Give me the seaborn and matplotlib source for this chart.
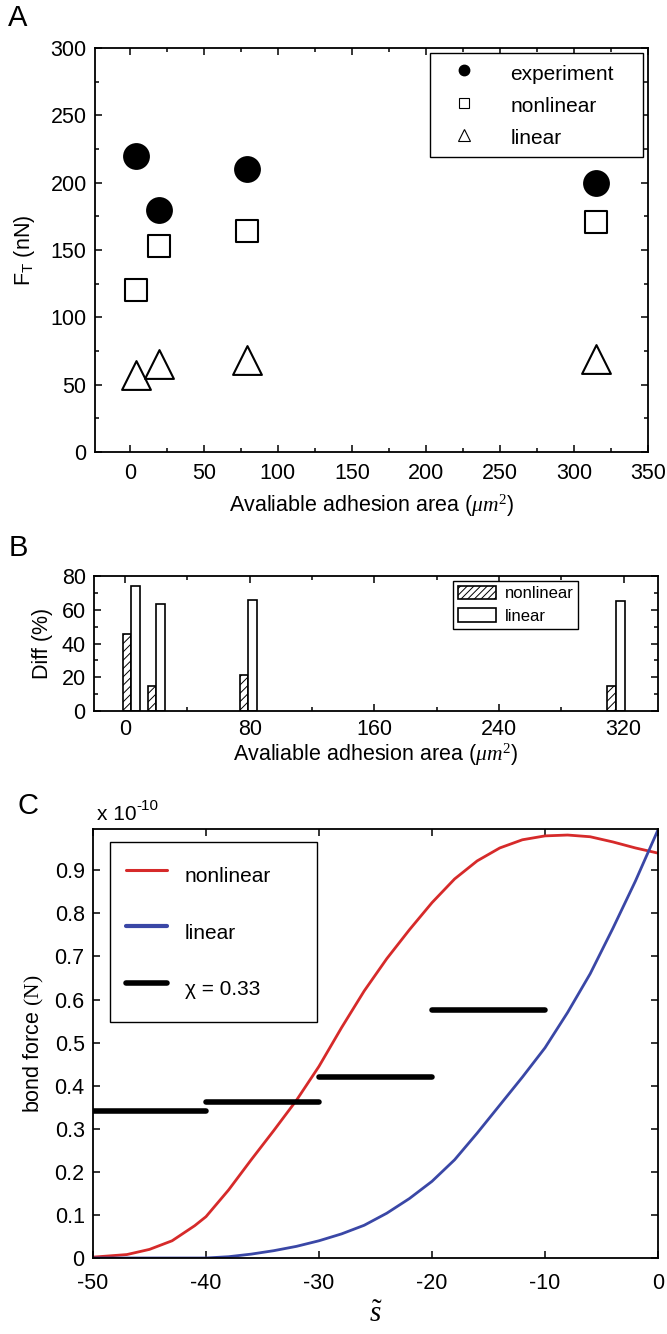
import numpy as np
import pandas as pd
import matplotlib
matplotlib.use('Agg')
import matplotlib.pyplot as plt
from matplotlib.patches import Patch
from matplotlib.lines import Line2D
from matplotlib.ticker import MultipleLocator
import seaborn as sns

# ---- data ----
area = [4, 20, 79, 315]
ft_experiment = [220, 180, 210, 200]
ft_nonlinear = [120, 153, 164, 171]
ft_linear = [57, 65, 68, 69]

diff_nonlinear = [45.5, 14.8, 21.1, 14.7]
diff_linear = [73.9, 63.6, 66.0, 65.3]

s_red = [-50, -47, -45, -43, -41, -40, -38, -36, -34, -32, -30, -28, -26, -24,
         -22, -20, -18, -16, -14, -12, -10, -8, -6, -4, -2, 0]
f_red = [0.002, 0.008, 0.02, 0.04, 0.075, 0.096, 0.158, 0.228, 0.296, 0.366,
         0.445, 0.535, 0.62, 0.695, 0.762, 0.825, 0.88, 0.922, 0.952, 0.971,
         0.98, 0.982, 0.978, 0.966, 0.952, 0.94]
s_blue = [-50, -45, -40, -38, -36, -34, -32, -30, -28, -26, -24, -22, -20, -18,
          -16, -14, -12, -10, -8, -6, -4, -2, 0]
f_blue = [0.0, 0.0, 0.0, 0.003, 0.009, 0.017, 0.027, 0.04, 0.056, 0.076, 0.104,
          0.138, 0.178, 0.228, 0.29, 0.355, 0.42, 0.488, 0.57, 0.66, 0.765,
          0.875, 0.994]
chi_start = [-50, -40, -30, -20]
chi_end = [-40, -30, -20, -10]
chi_force = [0.342, 0.363, 0.42, 0.576]

red = '#d62a2a'
blue = '#3a47a6'

sns.set_theme(style='ticks')
plt.rcParams['font.family'] = ['Liberation Sans', 'DejaVu Sans']
plt.rcParams['mathtext.fontset'] = 'custom'
plt.rcParams['mathtext.rm'] = 'Liberation Serif'
plt.rcParams['mathtext.it'] = 'Liberation Serif:italic'
plt.rcParams['mathtext.sf'] = 'Liberation Sans'
plt.rcParams['axes.unicode_minus'] = False
plt.rcParams['axes.linewidth'] = 1.3
plt.rcParams['hatch.linewidth'] = 0.7
for key in ['text.color', 'axes.labelcolor', 'xtick.color', 'ytick.color',
            'axes.edgecolor']:
    plt.rcParams[key] = 'black'

fig = plt.figure(figsize=(6.67, 13.34), dpi=100)
W, H = 667, 1334
FS = 15.5


def add_ax(x0, x1, y0, y1):
    return fig.add_axes([x0 / W, 1 - y1 / H, (x1 - x0) / W, (y1 - y0) / H])


def style_ticks(ax, size):
    ax.tick_params(which='both', direction='in', top=True, right=True,
                   labelsize=size, color='black', labelcolor='black', width=1.1)
    ax.tick_params(which='major', length=5, pad=6)
    ax.tick_params(which='minor', length=3)


# ---- panel A ----
ax_a = add_ax(95, 648, 48, 452)
sns.scatterplot(x=area, y=ft_experiment, marker='o', s=320, color='black',
                edgecolor='black', ax=ax_a, zorder=3)
sns.scatterplot(x=area, y=ft_nonlinear, marker='s', s=270, facecolor='white',
                edgecolor='black', linewidth=1.5, ax=ax_a, zorder=3)
sns.scatterplot(x=area, y=ft_linear, marker='^', s=430, facecolor='white',
                edgecolor='black', linewidth=1.5, ax=ax_a, zorder=3)
ax_a.set_xlim(-23.5, 350)
ax_a.set_ylim(0, 300)
ax_a.xaxis.set_major_locator(MultipleLocator(50))
ax_a.xaxis.set_minor_locator(MultipleLocator(25))
ax_a.yaxis.set_major_locator(MultipleLocator(50))
ax_a.yaxis.set_minor_locator(MultipleLocator(25))
style_ticks(ax_a, FS)
ax_a.tick_params(axis='x', which='major', pad=8)
ax_a.set_xlabel(r'Avaliable adhesion area ($\mu m^2$)', fontsize=FS, labelpad=6)
ax_a.set_ylabel(r'F$_\mathsf{T}$ (nN)', fontsize=FS, labelpad=10)
h_a = [Line2D([], [], marker='o', ls='', color='black', markersize=7.5),
       Line2D([], [], marker='s', ls='', mfc='white', mec='black', markersize=7, mew=0.8),
       Line2D([], [], marker='^', ls='', mfc='white', mec='black', markersize=9, mew=0.8)]
leg_a = ax_a.legend(h_a, ['experiment', 'nonlinear', 'linear'], loc='upper left',
                    bbox_to_anchor=(0.606, 0.73, 0.385, 0.258), mode='expand',
                    fontsize=15, handlelength=2.5, handleheight=1.35,
                    handletextpad=0.96, labelspacing=0.43, borderpad=0.39,
                    borderaxespad=0, fancybox=False, edgecolor='black',
                    framealpha=1)
leg_a.get_frame().set_linewidth(1.0)

# ---- panel B ----
ax_b = add_ax(94, 658, 576, 711)
df_b = pd.DataFrame({'area': area * 2,
                     'diff': diff_nonlinear + diff_linear,
                     'model': ['nonlinear'] * 4 + ['linear'] * 4})
sns.barplot(data=df_b, x='area', y='diff', hue='model', native_scale=True,
            palette=['white', 'white'], edgecolor='black', linewidth=1.2,
            width=0.69, gap=0, dodge=True, errorbar=None, legend=False, ax=ax_b)
for bar in ax_b.containers[0]:
    bar.set_hatch('////')
ax_b.set_xlim(-20, 342)
ax_b.set_ylim(0, 80)
ax_b.set_xticks([0, 80, 160, 240, 320])
ax_b.xaxis.set_minor_locator(MultipleLocator(40))
ax_b.yaxis.set_major_locator(MultipleLocator(20))
ax_b.yaxis.set_minor_locator(MultipleLocator(10))
style_ticks(ax_b, FS)
ax_b.set_xlabel(r'Avaliable adhesion area ($\mu m^2$)', fontsize=FS, labelpad=1)
ax_b.set_ylabel('Diff (%)', fontsize=FS, labelpad=6)
h_b = [Patch(facecolor='white', edgecolor='black', hatch='/////', lw=1.2),
       Patch(facecolor='white', edgecolor='black', lw=1.2)]
leg_b = ax_b.legend(h_b, ['nonlinear', 'linear'], loc='upper left',
                    bbox_to_anchor=(0.637, 0.96), fontsize=12,
                    handlelength=2.3, handleheight=0.85, handletextpad=0.5,
                    labelspacing=0.42, borderpad=0.28, borderaxespad=0,
                    fancybox=False, edgecolor='black', framealpha=1)
leg_b.get_frame().set_linewidth(1.0)

# ---- panel C ----
ax_c = add_ax(93, 658, 829, 1258)
sns.lineplot(x=s_red, y=f_red, color=red, linewidth=2, ax=ax_c)
sns.lineplot(x=s_blue, y=f_blue, color=blue, linewidth=2, ax=ax_c)
for x0, x1, v in zip(chi_start, chi_end, chi_force):
    sns.lineplot(x=[x0, x1], y=[v, v], color='black', linewidth=4, ax=ax_c)
ax_c.set_xlim(-50, 0)
ax_c.set_ylim(0, 0.996)
ax_c.set_xticks([-50, -40, -30, -20, -10, 0])
ax_c.set_yticks([0, 0.1, 0.2, 0.3, 0.4, 0.5, 0.6, 0.7, 0.8, 0.9])
ax_c.set_yticklabels(['0', '0.1', '0.2', '0.3', '0.4', '0.5', '0.6', '0.7', '0.8', '0.9'])
style_ticks(ax_c, FS)
ax_c.tick_params(axis='x', which='major', pad=11)
ax_c.set_xlabel(r'$\tilde{s}$', fontsize=21, labelpad=4)
ax_c.set_ylabel(r'bond force $\mathrm{(N)}$', fontsize=FS, labelpad=6)
h_c = [Line2D([], [], color=red, lw=2.2), Line2D([], [], color=blue, lw=3),
       Line2D([], [], color='black', lw=4)]
leg_c = ax_c.legend(h_c, ['nonlinear', 'linear', 'χ = 0.33'], loc='upper left',
                    bbox_to_anchor=(0.03, 0.55, 0.366, 0.42), mode='expand',
                    fontsize=15, handlelength=2.0, handleheight=2.27,
                    handletextpad=0.85, labelspacing=1.0, borderpad=0.75,
                    borderaxespad=0, fancybox=False, edgecolor='black',
                    framealpha=1)
leg_c.get_frame().set_linewidth(1.0)

# panel letters and exponent
fig.text(18 / W, 1 - 18 / H, 'A', fontsize=21, ha='center', va='center')
fig.text(18 / W, 1 - 548 / H, 'B', fontsize=21, ha='center', va='center')
fig.text(28 / W, 1 - 806 / H, 'C', fontsize=21, ha='center', va='center')
fig.text(97 / W, 1 - 814 / H, 'x 10', fontsize=15, ha='left', va='center')
fig.text(136 / W, 1 - 806 / H, '-10', fontsize=11, ha='left', va='center')

fig.savefig('out.png', dpi=100, facecolor='white')
